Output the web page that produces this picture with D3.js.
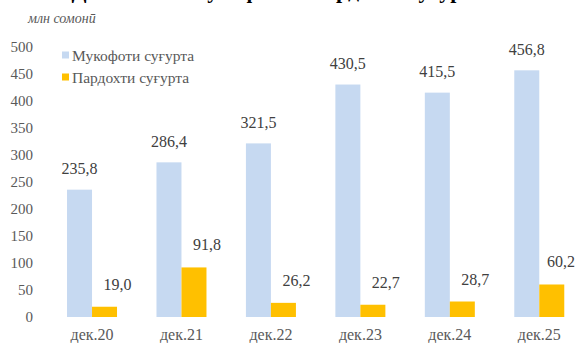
<!DOCTYPE html>
<html>
<head>
<meta charset="utf-8">
<script src="https://cdn.jsdelivr.net/npm/d3@7/dist/d3.min.js"></script>
<style>
  html, body { margin: 0; padding: 0; background: #fff; }
  svg { display: block; }
</style>
</head>
<body>
<script>
// Insurance premiums and payouts, million somoni, December of each year
const categories = ["дек.20", "дек.21", "дек.22", "дек.23", "дек.24", "дек.25"];
const seriesNames = ["Мукофоти суғурта", "Пардохти суғурта"];
const premiums = [235.8, 286.4, 321.5, 430.5, 415.5, 456.8];
const payouts = [19.0, 91.8, 26.2, 22.7, 28.7, 60.2];
const yTicks = [0, 50, 100, 150, 200, 250, 300, 350, 400, 450, 500];
const unitLabel = "млн сомонӣ";
const titleText = "Динамикаи мукофот ва пардохти суғурта";

const colors = ["#C6D9F1", "#FFC000"];
const SERIF = "Liberation Serif";
const W = 576, H = 343;

const svg = d3.select("body").append("svg")
  .attr("width", W).attr("height", H);

const x = d3.scaleBand().domain(categories).range([47.3, 584]).padding(0);
const barW = 25;
const x1 = d3.scaleBand().domain(seriesNames)
  .range([x.bandwidth() / 2 - barW, x.bandwidth() / 2 + barW]).padding(0);
const y = d3.scaleLinear().domain([0, 500]).range([317, 47]);

const fmt = v => d3.format(".1f")(v).replace(".", ",");

// Title (runs off the top edge; only descenders remain)
svg.append("text")
  .attr("x", W / 2 - 10).attr("y", -2)
  .attr("text-anchor", "middle")
  .style("font-family", SERIF)
  .style("font-size", "22px").style("font-weight", "bold")
  .attr("fill", "#000")
  .text(titleText);

// Unit label
svg.append("text")
  .attr("x", 28).attr("y", 23)
  .style("font-family", SERIF)
  .style("font-size", "14px").style("font-style", "italic")
  .attr("fill", "#595959")
  .text(unitLabel);

// Y axis (labels only)
const yAxis = d3.axisLeft(y).tickValues(yTicks).tickSize(0).tickPadding(0);
const gy = svg.append("g").attr("transform", "translate(33,0)").call(yAxis);
gy.attr("font-family", null).attr("font-size", null);
gy.select(".domain").remove();
gy.selectAll("text")
  .style("font-family", SERIF)
  .style("font-size", "15px").attr("fill", "#595959");

// X axis (labels only)
const xAxis = d3.axisBottom(x).tickSize(0).tickPadding(0);
const gx = svg.append("g").attr("transform", "translate(0,329)").call(xAxis);
gx.attr("font-family", null).attr("font-size", null);
gx.select(".domain").remove();
gx.selectAll("text")
  .style("font-family", SERIF)
  .style("font-size", "16px").attr("fill", "#595959");

const rows = categories.map((c, i) => ({ cat: c, values: [premiums[i], payouts[i]] }));

const groups = svg.append("g").selectAll("g").data(rows).join("g")
  .attr("transform", d => `translate(${x(d.cat)},0)`);

groups.selectAll("rect")
  .data(d => d.values.map((v, k) => ({ key: seriesNames[k], v, k })))
  .join("rect")
  .attr("x", d => x1(d.key))
  .attr("width", x1.bandwidth())
  .attr("y", d => y(d.v))
  .attr("height", d => y(0) - y(d.v))
  .attr("fill", d => colors[d.k]);

// Value labels: premiums centred over their bar, payouts nudged right;
// kept inside the right edge of the chart
const labels = groups.selectAll("text.val")
  .data(d => d.values.map((v, k) => ({ cat: d.cat, key: seriesNames[k], v, k })))
  .join("text")
  .attr("class", "val")
  .attr("y", d => y(d.v) - (d.k === 1 ? 17 : 15.5))
  .attr("text-anchor", "middle")
  .style("font-family", SERIF)
  .style("font-size", "16px").attr("fill", "#404040")
  .text(d => fmt(d.v));
labels.attr("x", function (d) {
  const local = x1(d.key) + x1.bandwidth() / 2 + (d.k === 1 ? 13 : 0);
  const half = this.getComputedTextLength() / 2;
  const maxLocal = W - 1 - half - x(d.cat);
  return Math.min(local, maxLocal);
});

// Legend
const lg = svg.append("g").selectAll("g").data(seriesNames).join("g")
  .attr("transform", (d, i) => `translate(62,${55 + i * 22})`);
lg.append("rect")
  .attr("x", 0).attr("y", -3.5).attr("width", 7).attr("height", 7)
  .attr("fill", (d, i) => colors[i]);
lg.append("text")
  .attr("x", 10).attr("y", 5.5)
  .style("font-family", SERIF)
  .style("font-size", "15.5px").attr("fill", "#595959")
  .text(d => d);
</script>
</body>
</html>
